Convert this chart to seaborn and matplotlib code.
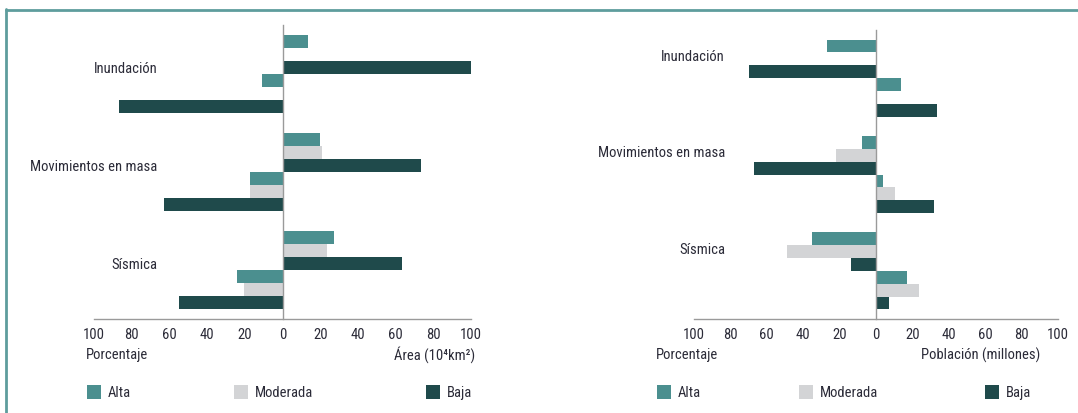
import numpy as np
import pandas as pd
import seaborn as sns
import matplotlib.pyplot as plt
from matplotlib.patches import Rectangle
from matplotlib.lines import Line2D

# Datos
amenazas = ["Inundación", "Movimientos en masa", "Sísmica"]
niveles = ["Alta", "Moderada", "Baja"]

# Panel izquierdo: área (10^4 km2) y porcentaje
area_alta = [13.5, 20, 27.5]
area_moderada = [0, 21, 23.5]
area_baja = [100, 73.5, 63.5]
pct_area_alta = [11, 17.5, 24]
pct_area_moderada = [0, 17.5, 20.5]
pct_area_baja = [87, 63, 55]

# Panel derecho: población (millones) y porcentaje
pct_pob_alta = [27, 7.5, 35]
pct_pob_moderada = [0, 22, 49]
pct_pob_baja = [70, 67, 13.5]
pob_alta = [13.5, 4, 17]
pob_moderada = [0, 10.5, 23.5]
pob_baja = [33.5, 32, 7]

colores = {"Alta": "#4b8f8f", "Moderada": "#d3d4d6", "Baja": "#1f4a4b"}
texto = "#2b2b38"
W, H = 1078, 414
FS = 10.5

sns.set_theme(style="white")
plt.rcParams["font.family"] = ["Liberation Sans Narrow", "Roboto Condensed", "DejaVu Sans"]
plt.rcParams["font.stretch"] = "condensed"


def px(x, y):
    return x / W, 1 - y / H


def tabla(series):
    filas = []
    for nombre, nivel, valores, signo in series:
        for amenaza, v in zip(amenazas, valores):
            filas.append({"amenaza": amenaza, "serie": nombre, "nivel": nivel, "valor": signo * v})
    return pd.DataFrame(filas)


def panel(ax, df, orden, etiqueta_x, etiqueta_dy):
    paleta = {s: colores[n] for s, n in df[["serie", "nivel"]].drop_duplicates().values}
    sns.barplot(data=df, y="amenaza", x="valor", hue="serie", hue_order=orden,
                order=amenazas, orient="h", palette=paleta, width=0.8,
                saturation=1, errorbar=None, linewidth=0, legend=False, ax=ax)
    ax.set_xlim(-100, 100)
    ax.set_ylim(2.5, -0.5)
    ticks = list(range(-100, 101, 20))
    ax.set_xticks(ticks)
    ax.set_xticklabels([str(abs(t)) for t in ticks], fontsize=FS, color=texto)
    ax.set_yticks([-0.5, 0.5, 1.5, 2.5])
    ax.set_yticklabels([])
    ax.tick_params(axis="x", direction="inout", length=4, width=0.8, color="#999999", pad=4)
    ax.tick_params(axis="y", direction="inout", length=4, width=0.8, color="#999999")
    ax.set_xlabel("")
    ax.set_ylabel("")
    for s in ["top", "right"]:
        ax.spines[s].set_visible(False)
    ax.spines["left"].set_position(("data", 0))
    for s in ["left", "bottom"]:
        ax.spines[s].set_color("#9a9a9a")
        ax.spines[s].set_linewidth(1.0)
    for i, a in enumerate(amenazas):
        ax.text(etiqueta_x, i + etiqueta_dy, a, ha="right", va="center",
                fontsize=FS, color=texto)


fig = plt.figure(figsize=(W / 100, H / 100), dpi=100)

# Panel izquierdo
ax1 = fig.add_axes([94 / W, 1 - 320 / H, 377 / W, 294 / H])
df1 = tabla([
    ("Alta área", "Alta", area_alta, 1),
    ("Moderada área", "Moderada", area_moderada, 1),
    ("Baja área", "Baja", area_baja, 1),
    ("Alta %", "Alta", pct_area_alta, -1),
    ("Moderada %", "Moderada", pct_area_moderada, -1),
    ("Baja %", "Baja", pct_area_baja, -1),
])
panel(ax1, df1, list(df1["serie"].unique()), -66.5, -0.06)

# Panel derecho
ax2 = fig.add_axes([694 / W, 1 - 320 / H, 364 / W, 289 / H])
df2 = tabla([
    ("Alta %", "Alta", pct_pob_alta, -1),
    ("Moderada %", "Moderada", pct_pob_moderada, -1),
    ("Baja %", "Baja", pct_pob_baja, -1),
    ("Alta pob", "Alta", pob_alta, 1),
    ("Moderada pob", "Moderada", pob_moderada, 1),
    ("Baja pob", "Baja", pob_baja, 1),
])
panel(ax2, df2, list(df2["serie"].unique()), -83, -0.23)

# Títulos de ejes
fig.text(*px(86, 355), "Porcentaje", ha="left", va="center", fontsize=FS, color=texto)
fig.text(*px(475, 355), "Área (10⁴km²)", ha="right", va="center", fontsize=FS, color=texto)
fig.text(*px(656, 355), "Porcentaje", ha="left", va="center", fontsize=FS, color=texto)
fig.text(*px(1040, 355), "Población (millones)", ha="right", va="center", fontsize=FS, color=texto)

# Leyendas
for x0 in (87, 657):
    pos = [x0, x0 + 147, x0 + 339] if x0 == 87 else [x0, x0 + 142, x0 + 328]
    for xs, nivel in zip(pos, niveles):
        fig.add_artist(Rectangle(px(xs, 400), 14 / W, 14 / H, transform=fig.transFigure,
                                 facecolor=colores[nivel], edgecolor="none"))
        fig.text(*px(xs + 21, 393), nivel, ha="left", va="center", fontsize=FS, color=texto)

# Marco
fig.add_artist(Line2D([5.5 / W, 5.5 / W], [0, 1 - 10 / H], transform=fig.transFigure,
                      color="#5e9d9d", linewidth=2))
fig.add_artist(Line2D([5.5 / W, 1], [1 - 10.5 / H, 1 - 10.5 / H], transform=fig.transFigure,
                      color="#5e9d9d", linewidth=2))

fig.savefig("out.png", dpi=100)
